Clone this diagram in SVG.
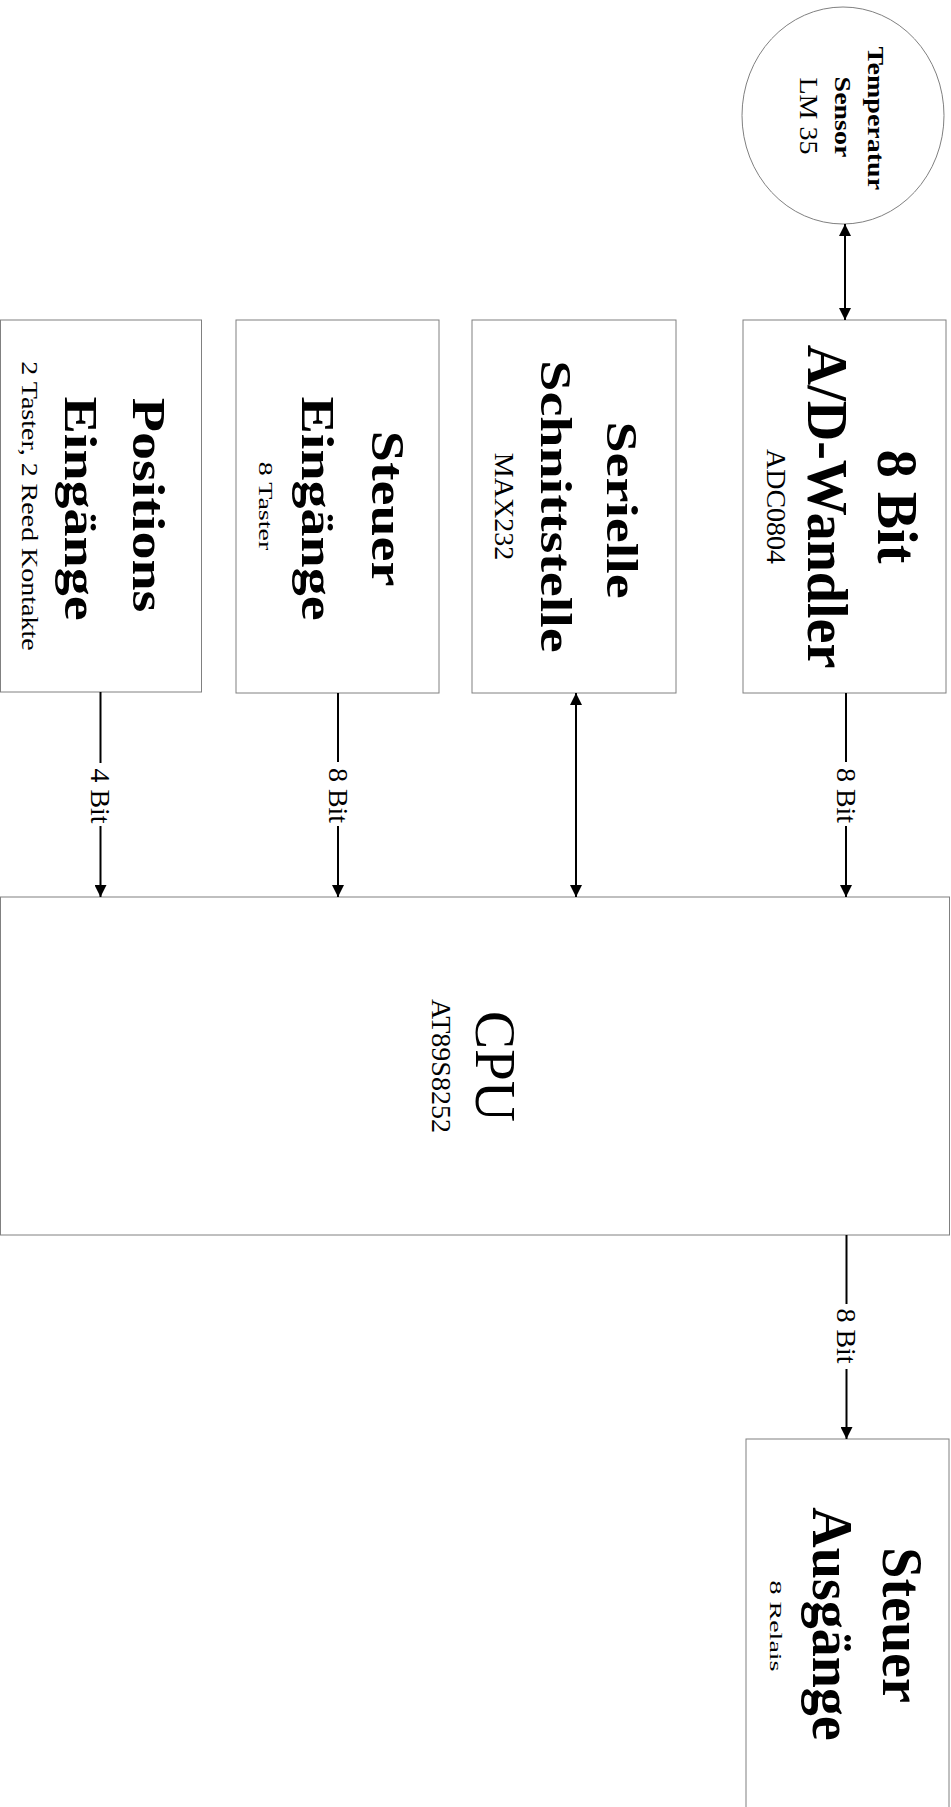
<svg xmlns="http://www.w3.org/2000/svg" width="951" height="1807" viewBox="0 0 951 1807">
<style>
.box{fill:#fff;stroke:#808080;stroke-width:1}
.t{font-family:"Liberation Serif","Times New Roman",serif;text-anchor:middle;fill:#000}
.b{font-weight:bold;font-size:56px}
.s{font-weight:bold;font-size:28px}
.r{font-size:28px}
.c{stroke:#000;stroke-width:2;fill:none}
</style>
<defs>
<marker id="ah" markerUnits="userSpaceOnUse" markerWidth="12" markerHeight="12" refX="12" refY="6" orient="auto-start-reverse">
<path d="M0,0 L12,6 L0,12 z" fill="#000"/>
</marker>
</defs>
<rect width="951" height="1807" fill="#fff"/>

<g id="sensor">
<ellipse class="box" cx="843" cy="115.5" rx="101" ry="108.5"/>
<text class="t s" transform="translate(868.3,118.3) rotate(90) scale(1,0.81)">Temperatur</text>
<text class="t s" transform="translate(835,117) rotate(90) scale(1,0.85)">Sensor</text>
<text class="t r" transform="translate(800,116) rotate(90) scale(1,0.89)">LM 35</text>
</g>

<g id="adc">
<rect class="box" x="743" y="320" width="203" height="373"/>
<text class="t b" transform="translate(878,506.5) rotate(90)">8 Bit</text>
<text class="t b" transform="translate(808,506.5) rotate(90)">A/D-Wandler</text>
<text class="t r" transform="translate(767,506.5) rotate(90)">ADC0804</text>
</g>

<g id="seriell">
<rect class="box" x="472" y="320" width="204" height="373"/>
<text class="t b" transform="translate(606.7,510) rotate(90) scale(1,0.8)">Serielle</text>
<text class="t b" transform="translate(540.5,506.5) rotate(90) scale(1,0.8)">Schnittstelle</text>
<text class="t r" transform="translate(495,506.5) rotate(90)">MAX232</text>
</g>

<g id="steuer-ein">
<rect class="box" x="236" y="320" width="203" height="373"/>
<text class="t b" transform="translate(372,508.5) rotate(90) scale(1,0.81)">Steuer</text>
<text class="t b" transform="translate(301.7,508.5) rotate(90) scale(1,0.81)">Eingänge</text>
<text class="t r" transform="translate(259.3,506) rotate(90) scale(1,0.66)">8 Taster</text>
</g>

<g id="positions">
<rect class="box" x="0.5" y="320" width="201" height="372"/>
<text class="t b" transform="translate(133.3,505) rotate(90) scale(1,0.81)">Positions</text>
<text class="t b" transform="translate(65,508.5) rotate(90) scale(1,0.81)">Eingänge</text>
<text class="t r" transform="translate(21.7,506) rotate(90) scale(1,0.8)">2 Taster, 2 Reed Kontakte</text>
</g>

<g id="cpu">
<rect class="box" x="0.5" y="897" width="949" height="338"/>
<text class="t" style="font-size:57px" transform="translate(476,1066.5) rotate(90)">CPU</text>
<text class="t r" transform="translate(431.7,1066) rotate(90)">AT89S8252</text>
</g>

<g id="steuer-aus">
<rect class="box" x="746" y="1439" width="203" height="400"/>
<text class="t b" transform="translate(883.3,1625) rotate(90)">Steuer</text>
<text class="t b" transform="translate(813.3,1624) rotate(90)">Ausgänge</text>
<text class="t r" transform="translate(770,1626) rotate(90) scale(1,0.62)">8 Relais</text>
</g>

<g id="connectors">
<line class="c" x1="845" y1="224" x2="845" y2="320" marker-start="url(#ah)" marker-end="url(#ah)"/>
<line class="c" x1="846" y1="693" x2="846" y2="762"/>
<line class="c" x1="846" y1="826" x2="846" y2="897" marker-end="url(#ah)"/>
<text class="t r" transform="translate(836.5,795.5) rotate(90)">8 Bit</text>
<line class="c" x1="576" y1="693" x2="576" y2="897" marker-start="url(#ah)" marker-end="url(#ah)"/>
<line class="c" x1="338" y1="693" x2="338" y2="762"/>
<line class="c" x1="338" y1="826" x2="338" y2="897" marker-end="url(#ah)"/>
<text class="t r" transform="translate(328.5,795.5) rotate(90)">8 Bit</text>
<line class="c" x1="100.5" y1="692" x2="100.5" y2="763"/>
<line class="c" x1="100.5" y1="826" x2="100.5" y2="897" marker-end="url(#ah)"/>
<text class="t r" transform="translate(91,796) rotate(90)">4 Bit</text>
<line class="c" x1="846.5" y1="1235" x2="846.5" y2="1304"/>
<line class="c" x1="846.5" y1="1369" x2="846.5" y2="1439" marker-end="url(#ah)"/>
<text class="t r" transform="translate(837,1336) rotate(90)">8 Bit</text>
</g>
</svg>
